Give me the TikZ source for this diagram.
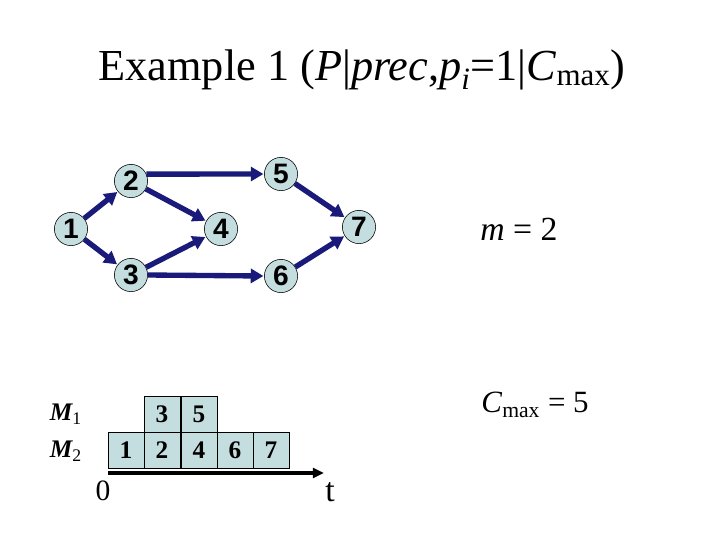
\documentclass[tikz,border=0pt]{standalone}
\usepackage{fontspec}
\setmainfont{Liberation Serif}
\newfontfamily\arialfont{Liberation Sans}
\usetikzlibrary{arrows.meta}
\definecolor{jobfill}{RGB}{196,222,224}
\definecolor{arcblue}{RGB}{26,26,122}

\begin{document}
\begin{tikzpicture}[x=0.025cm, y=-0.025cm,
    job/.style={circle, draw, fill=jobfill, minimum size=0.83cm, inner sep=0pt,
      font=\arialfont\bfseries\fontsize{20}{20}\selectfont},
    arc/.style={draw=arcblue, line width=3.8pt,
      -{Triangle[length=9pt, width=10pt]}, shorten >=0.5pt},
    cell/.style={draw, fill=jobfill, minimum width=0.9cm, minimum height=0.9cm,
      inner sep=0pt, font=\bfseries\fontsize{18}{18}\selectfont}]
  \useasboundingbox (0,0) rectangle (720,540);

  \node (title) at (362,70) {\fontsize{31.5}{32}\selectfont Example 1 (\textit{P}|\textit{prec},\textit{p}\textsubscript{\textit{i}}=1|\textit{C}\textsubscript{max})};

  \node[job] (1) at (71,229) {1};
  \node[job] (2) at (131,181) {2};
  \node[job] (3) at (131,275) {3};
  \node[job] (4) at (221,229) {4};
  \node[job] (5) at (281,174) {5};
  \node[job] (6) at (281,276) {6};
  \node[job] (7) at (359,227) {7};
  \draw[arc] (1) -- (2);
  \draw[arc] (1) -- (3);
  \draw[arc] (2) -- (4);
  \draw[arc] (3) -- (4);
  \draw[arc] (2.24) -- (5.west);
  \draw[arc] (3.east) -- (6.west);
  \draw[arc] (5) -- (7);
  \draw[arc] (6) -- (7);

  \node (m) at (519,229) {\fontsize{24}{24}\selectfont \textit{m} = 2};
  \node (cmax) at (535,405) {\fontsize{22}{22}\selectfont \textit{C}\textsubscript{max} = 5};

  \node (M1) at (66,414) {\fontsize{18}{18}\selectfont\bfseries\itshape M\textsubscript{\normalfont 1}};
  \node (M2) at (66,451) {\fontsize{18}{18}\selectfont\bfseries\itshape M\textsubscript{\normalfont 2}};

  \node[cell] (c1) at (126,450) {1};
  \node[cell] (c2) at (162,450) {2};
  \node[cell] (c4) at (199,450) {4};
  \node[cell] (c6) at (235,450) {6};
  \node[cell] (c7) at (271,450) {7};
  \node[cell] (c3) at (162,414) {3};
  \node[cell] (c5) at (199,414) {5};

  \coordinate (t0) at (108,473);
  \coordinate (t1) at (324,473);
  \draw[line width=2.2pt, -{Triangle[length=8pt, width=7pt]}] (t0) -- (t1);
  \node (zero) at (103,491) {\fontsize{21}{21}\selectfont 0};
  \node (t) at (330,492) {\fontsize{24}{24}\selectfont t};
\end{tikzpicture}
\end{document}
